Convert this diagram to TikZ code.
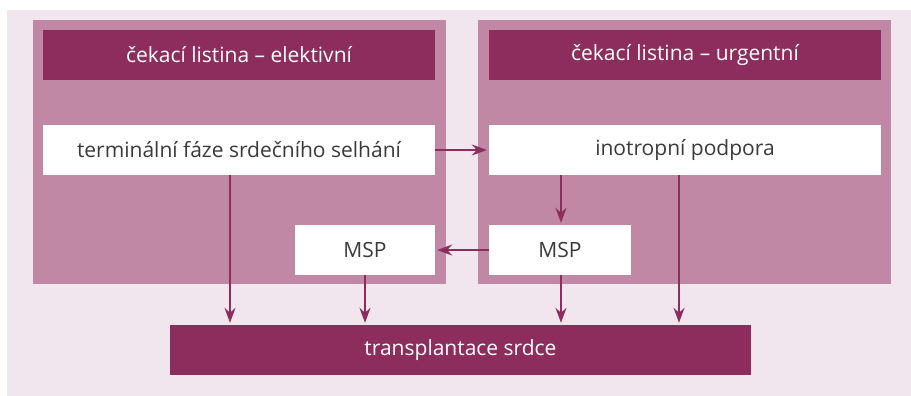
\documentclass[tikz,border=0pt]{standalone}
\usepackage{fontspec}
\setmainfont{Open Sans}
\usetikzlibrary{arrows.meta}
\definecolor{dark}{HTML}{8C2D5E}
\definecolor{mid}{HTML}{C088A4}
\definecolor{light}{HTML}{F2E6EE}
\definecolor{txt}{HTML}{3A3A3A}
\begin{document}
\begin{tikzpicture}[x=1pt,y=-1pt,
  panel/.style={fill=mid,draw=none},
  header/.style={fill=dark,draw=none,text=white,inner sep=0pt,font=\fontsize{21}{24}\selectfont},
  wbox/.style={fill=white,draw=none,text=txt,inner sep=0pt,font=\fontsize{21}{24}\selectfont},
  conn/.style={draw=dark,line width=1.6pt,shorten >=2pt,-{Stealth[length=15pt,width=11pt,inset=5pt]}}]
\useasboundingbox (0,0) rectangle (911,396);
\fill[light] (7,10) rectangle (911,396);
\fill[panel] (33,20) rectangle (446,284);
\fill[panel] (478,20) rectangle (891,284);
\node[header,minimum width=392pt,minimum height=50pt] (h1) at (239,55) {čekací listina – elektivní};
\node[header,minimum width=392pt,minimum height=50pt] (h2) at (685,55) {čekací listina – urgentní};
\node[wbox,minimum width=392pt,minimum height=50pt] (t) at (239,150) {terminální fáze srdečního selhání};
\node[wbox,minimum width=392pt,minimum height=50pt] (i) at (685,150) {inotropní podpora};
\node[wbox,minimum width=140pt,minimum height=50pt] (m1) at (365,250) {MSP};
\node[wbox,minimum width=142pt,minimum height=50pt] (m2) at (560,250) {MSP};
\node[header,minimum width=581pt,minimum height=50pt] (tx) at (460.5,350) {transplantace srdce};
\draw[conn] (t.east) -- (i.west);
\draw[conn] (m2.west) -- (m1.east);
\draw[conn] (t.south -| 230,0) -- (tx.north -| 230,0);
\draw[conn] (m1.south) -- (tx.north -| m1.south);
\draw[conn] (i.south -| 561,0) -- (m2.north -| 561,0);
\draw[conn] (m2.south -| 561,0) -- (tx.north -| 561,0);
\draw[conn] (i.south -| 679,0) -- (tx.north -| 679,0);
\end{tikzpicture}
\end{document}
